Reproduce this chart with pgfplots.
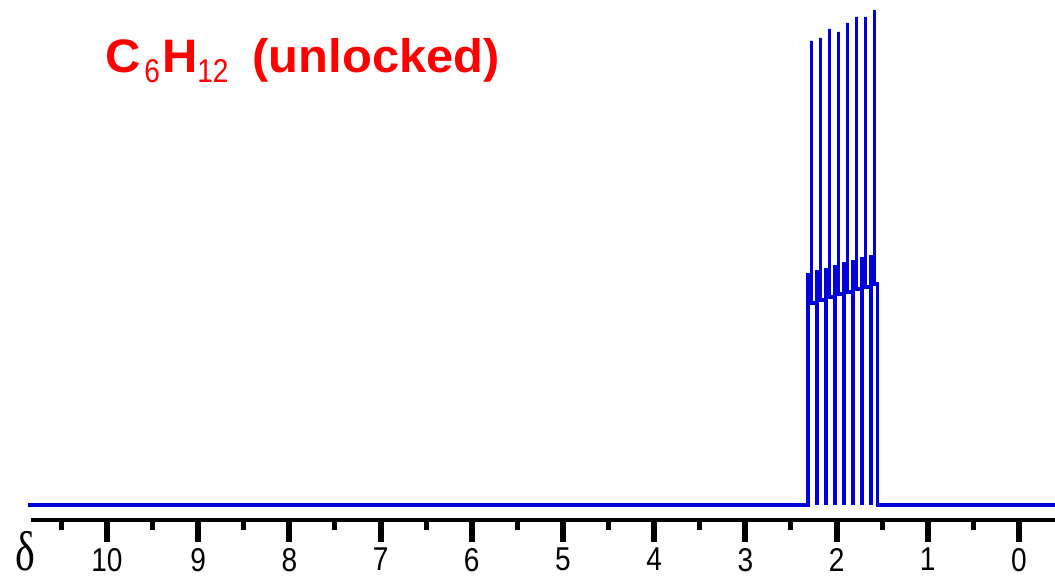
\documentclass[border=0pt]{standalone}
\usepackage{fontspec}
\setmainfont{Liberation Sans}
\newfontfamily\tickfont{Liberation Sans}[FakeStretch=0.85]
\newfontfamily\titlefont{Liberation Sans Bold}[FakeStretch=1.04]
\newfontfamily\deltafont{Liberation Serif}
\usepackage{graphicx}
\usepackage{pgfplots}
\pgfplotsset{compat=1.18}
\definecolor{specblue}{RGB}{0,0,221}
\definecolor{titlered}{RGB}{255,0,0}
\begin{document}
\begin{tikzpicture}
\useasboundingbox (0,0) rectangle (1055pt,577pt);
\begin{axis}[
  at={(31pt,57pt)}, anchor=south west,
  scale only axis, width=1024pt, height=520pt,
  x dir=reverse,
  xmin=-0.3947, xmax=10.833,
  ymin=-15, ymax=505,
  clip=false,
  axis x line=bottom,
  axis y line=none,
  axis line style={-, line width=4pt, black},
  xtick={0,1,2,3,4,5,6,7,8,9,10},
  minor xtick={0.5,1.5,2.5,3.5,4.5,5.5,6.5,7.5,8.5,9.5,10.5},
  tick align=outside,
  major tick length=22pt,
  minor tick length=10pt,
  major tick style={line width=6pt, black},
  minor tick style={line width=5pt, black},
  /pgf/number format/assume math mode=true,
  xticklabel shift=6pt,
  xticklabel style={inner sep=0pt, anchor=north, font=\tickfont\fontsize{33}{33}\selectfont},
]
\addplot[specblue, line width=3.5pt, line join=miter, line cap=butt] coordinates {
(10.866,0) (2.3136,0) (2.3136,230) (2.2752,230) (2.2752,464) (2.2752,202) (2.2149,202)
(2.2149,0) (2.2149,233) (2.1765,233) (2.1765,467) (2.1765,205) (2.1162,205)
(2.1162,0) (2.1162,235) (2.0779,235) (2.0779,476) (2.0779,208) (2.0175,208)
(2.0175,0) (2.0175,238) (1.9792,238) (1.9792,473) (1.9792,211) (1.9189,211)
(1.9189,0) (1.9189,241) (1.8805,241) (1.8805,482) (1.8805,213) (1.8202,213)
(1.8202,0) (1.8202,243) (1.7818,243) (1.7818,488) (1.7818,216) (1.7215,216)
(1.7215,0) (1.7215,246) (1.6831,246) (1.6831,488) (1.6831,218) (1.6228,218)
(1.6228,0) (1.6228,248) (1.5844,248) (1.5844,495) (1.5844,221) (1.5515,221)
(1.5515,0) (-0.3947,0)
};
\node[anchor=base west, inner sep=0pt, text=titlered, font=\titlefont\fontsize{47}{47}\selectfont]
  at (axis cs:10.022,432) {C\hspace{4pt}\raisebox{-10pt}{\tickfont\fontsize{33}{33}\selectfont 6}\hspace{2pt}H\raisebox{-10pt}{\tickfont\fontsize{33}{33}\selectfont 12}\hspace{24pt}(unlocked)};
\node[anchor=center, inner sep=0pt] at (axis cs:10.895,-46)
  {\scalebox{0.75}[1]{\deltafont\fontsize{56}{56}\selectfont δ}};
\end{axis}
\end{tikzpicture}
\end{document}
